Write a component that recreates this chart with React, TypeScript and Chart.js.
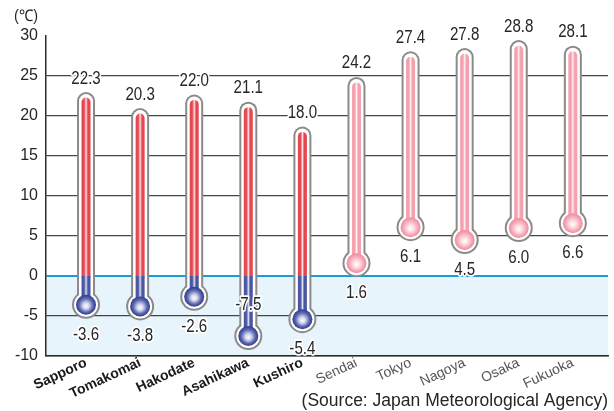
import React, { useEffect, useRef } from "react";
import { Chart, registerables } from "chart.js";

Chart.register(...registerables);

const cities = ["Sapporo", "Tomakomai", "Hakodate", "Asahikawa", "Kushiro", "Sendai", "Tokyo", "Nagoya", "Osaka", "Fukuoka"];
const inHokkaido = [true, true, true, true, true, false, false, false, false, false];
const augustHigh = [22.3, 20.3, 22.0, 21.1, 18.0, 24.2, 27.4, 27.8, 28.8, 28.1];
const januaryLow = [-3.6, -3.8, -2.6, -7.5, -5.4, 1.6, 6.1, 4.5, 6.0, 6.6];
const yMin = -10;
const yMax = 30;
const yStep = 5;
const unitLabel = "(\u2103)";
const sourceLabel = "(Source: Japan Meteorological Agency)";

const FONT = "'Liberation Sans', Arial, sans-serif";

const thermoPlugin = {
  id: "thermo",
  beforeDraw(chart: any) {
    const { ctx, chartArea, scales } = chart;
    const y = scales.y;
    const y0 = y.getPixelForValue(0);
    const yb = y.getPixelForValue(yMin);
    ctx.save();
    ctx.fillStyle = "#e8f4fb";
    ctx.fillRect(chartArea.left, y0, chartArea.right - chartArea.left, yb - y0);
    ctx.restore();
  },
  afterDatasetsDraw(chart: any) {
    const { ctx, chartArea, scales } = chart;
    const x = scales.x;
    const y = scales.y;
    const y0 = y.getPixelForValue(0);
    ctx.save();
    cities.forEach((_, i) => {
      const cx = x.getPixelForValue(i);
      const top = y.getPixelForValue(augustHigh[i]);
      const by = y.getPixelForValue(januaryLow[i]);
      const hk = inHokkaido[i];
      // outer gray tube + bulb
      ctx.lineCap = "round";
      ctx.strokeStyle = "#8a8a8a";
      ctx.fillStyle = "#8a8a8a";
      ctx.lineWidth = 18;
      ctx.beginPath();
      ctx.moveTo(cx, top + 3.5);
      ctx.lineTo(cx, by);
      ctx.stroke();
      ctx.beginPath();
      ctx.arc(cx, by, 14, 0, Math.PI * 2);
      ctx.fill();
      // white inner
      ctx.strokeStyle = "#ffffff";
      ctx.fillStyle = "#ffffff";
      ctx.lineWidth = 14;
      ctx.beginPath();
      ctx.moveTo(cx, top + 3.5);
      ctx.lineTo(cx, by);
      ctx.stroke();
      ctx.beginPath();
      ctx.arc(cx, by, 12, 0, Math.PI * 2);
      ctx.fill();
      // colored liquid
      const mkGrad = (edge: string, mid: string, center: string) => {
        const g = ctx.createLinearGradient(cx - 4.5, 0, cx + 4.5, 0);
        g.addColorStop(0, edge);
        g.addColorStop(0.28, edge);
        g.addColorStop(0.42, mid);
        g.addColorStop(0.5, center);
        g.addColorStop(0.58, mid);
        g.addColorStop(0.72, edge);
        g.addColorStop(1, edge);
        return g;
      };
      const warm = hk ? mkGrad("#e6464f", "#f29aa0", "#fff4f4") : mkGrad("#f4a0ae", "#f9c9d1", "#fff6f7");
      const cold = mkGrad("#4a56a2", "#9aa1d2", "#eef0fa");
      ctx.lineWidth = 9;
      const split = Math.min(Math.max(y0, top + 4.5), by);
      ctx.lineCap = "round";
      ctx.strokeStyle = warm;
      ctx.beginPath();
      ctx.moveTo(cx, top + 4.5);
      ctx.lineTo(cx, Math.max(split, top + 4.5));
      ctx.stroke();
      if (by > split) {
        ctx.lineCap = "butt";
        ctx.strokeStyle = hk ? cold : warm;
        ctx.beginPath();
        ctx.moveTo(cx, split);
        ctx.lineTo(cx, by);
        ctx.stroke();
      }
      // bulb
      const rg = ctx.createRadialGradient(cx, by + 1.5, 0, cx, by, 10);
      if (januaryLow[i] < 0) {
        rg.addColorStop(0, "#ffffff");
        rg.addColorStop(0.3, "#d4d7ee");
        rg.addColorStop(0.7, "#5a66ae");
        rg.addColorStop(1, "#2f3c8c");
      } else {
        rg.addColorStop(0, "#ffffff");
        rg.addColorStop(0.35, "#fcdce1");
        rg.addColorStop(0.8, "#f49fae");
        rg.addColorStop(1, "#ee8c9e");
      }
      ctx.fillStyle = rg;
      ctx.beginPath();
      ctx.arc(cx, by, 10, 0, Math.PI * 2);
      ctx.fill();
    });
    // value labels
    ctx.font = `18px ${FONT}`;
    ctx.textAlign = "center";
    ctx.textBaseline = "middle";
    ctx.lineJoin = "round";
    const label = (t: string, lx: number, ly: number) => {
      ctx.save();
      ctx.translate(lx, ly);
      ctx.scale(0.84, 1);
      ctx.strokeStyle = "#ffffff";
      ctx.lineWidth = 3.5;
      ctx.strokeText(t, 0, 0);
      ctx.fillStyle = "#262626";
      ctx.fillText(t, 0, 0);
      ctx.restore();
    };
    cities.forEach((_, i) => {
      const cx = x.getPixelForValue(i);
      const top = y.getPixelForValue(augustHigh[i]);
      const by = y.getPixelForValue(januaryLow[i]);
      label(augustHigh[i].toFixed(1), cx, top - 19);
      let ly = by + 30;
      if (ly > chartArea.bottom - 4) ly = by - 31;
      label(januaryLow[i].toFixed(1), cx, ly);
    });
    ctx.restore();
  },
  afterDraw(chart: any) {
    const { ctx } = chart;
    ctx.save();
    ctx.fillStyle = "#262626";
    ctx.textBaseline = "middle";
    ctx.font = `16px ${FONT}`;
    ctx.textAlign = "left";
    ctx.save();
    ctx.translate(14, 17);
    ctx.scale(0.9, 1);
    ctx.fillText(unitLabel, 0, 0);
    ctx.restore();
    ctx.font = `17.5px ${FONT}`;
    ctx.textAlign = "right";
    ctx.fillText(sourceLabel, 608, 401);
    ctx.restore();
  },
};

export default function App() {
  const ref = useRef<HTMLCanvasElement | null>(null);
  useEffect(() => {
    if (!ref.current) return;
    const chart = new Chart(ref.current, {
      type: "bar",
      data: {
        datasets: [
          {
            data: cities.map((_, i) => ({ x: i, y: [januaryLow[i], augustHigh[i]] })) as any,
            backgroundColor: "rgba(0,0,0,0)",
            borderWidth: 0,
          },
        ],
      },
      options: {
        animation: false,
        responsive: false,
        maintainAspectRatio: false,
        layout: { padding: { top: 36, right: 6, left: 0, bottom: 0 } },
        plugins: { legend: { display: false }, tooltip: { enabled: false } },
        scales: {
          x: {
            type: "linear",
            offset: false,
            min: -0.74,
            max: 9.65,
            afterBuildTicks: (s: any) => {
              s.ticks = cities.map((_, i) => ({ value: i }));
            },
            afterFit: (s: any) => {
              s.height = 55;
            },
            grid: { display: false, drawTicks: false, offset: false },
            border: { display: true, color: "#2b2b2b", width: 1.5 },
            ticks: {
              autoSkip: false,
              minRotation: 25,
              maxRotation: 25,
              padding: -1.5,
              callback: (v: any) => cities[v as number] ?? "",
              color: (c: any) => (inHokkaido[c.index] ? "#1a1a1a" : "#555555"),
              font: (c: any) =>
                inHokkaido[c.index]
                  ? { family: FONT, size: 14, weight: "bold" }
                  : { family: FONT, size: 14, weight: "normal" },
            },
          },
          y: {
            min: yMin,
            max: yMax,
            afterFit: (s: any) => {
              s.width = 46;
            },
            grid: {
              drawTicks: false,
              color: (c: any) =>
                c.tick.value === 0 ? "#1b9bd8" : c.tick.value === yMax ? "rgba(0,0,0,0)" : "#444444",
              lineWidth: (c: any) => (c.tick.value === 0 ? 2 : 1.3),
            },
            border: { display: true, color: "#2b2b2b", width: 1.5 },
            ticks: {
              stepSize: yStep,
              padding: 8,
              color: "#262626",
              font: { family: FONT, size: 16 },
            },
          },
        },
      },
      plugins: [thermoPlugin],
    });
    return () => chart.destroy();
  }, []);
  return (
    <div style={{ position: "absolute", left: 0, top: 0, width: 614, height: 411, background: "#fff" }}>
      <canvas ref={ref} width={614} height={411} style={{ width: 614, height: 411 }} />
    </div>
  );
}
